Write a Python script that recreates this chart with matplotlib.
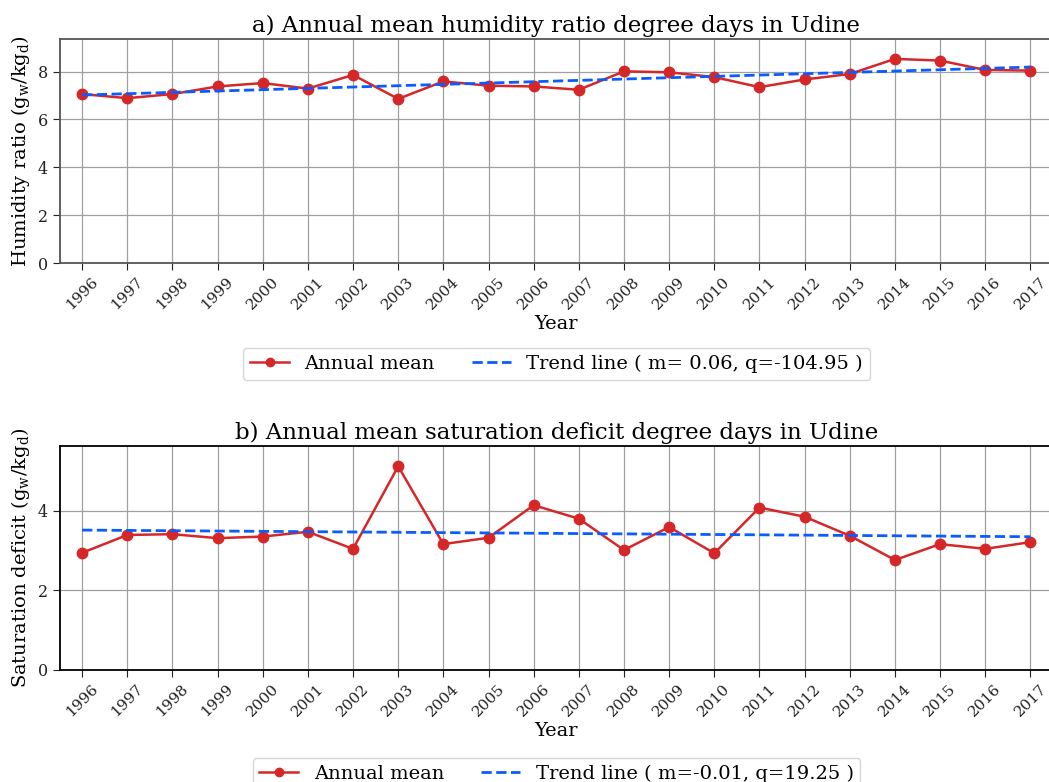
import numpy as np
import matplotlib
matplotlib.use("Agg")
import matplotlib.pyplot as plt

years = list(range(1996, 2018))
humidity = [7.06, 6.89, 7.06, 7.38, 7.52, 7.29, 7.86, 6.86, 7.59, 7.41, 7.38,
            7.24, 8.01, 7.97, 7.77, 7.35, 7.67, 7.90, 8.53, 8.46, 8.07, 8.04]
deficit = [2.94, 3.39, 3.41, 3.31, 3.35, 3.47, 3.04, 5.12, 3.16, 3.32, 4.14,
           3.80, 3.01, 3.59, 2.93, 4.08, 3.85, 3.37, 2.76, 3.16, 3.04, 3.21]
titles = ["a) Annual mean humidity ratio degree days in Udine",
          "b) Annual mean saturation deficit degree days in Udine"]
ylabels = [r"Humidity ratio (g$_\mathrm{w}$/kg$_\mathrm{d}$)",
           r"Saturation deficit (g$_\mathrm{w}$/kg$_\mathrm{d}$)"]
trend_labels = ["Trend line ( m= 0.06, q=-104.95 )",
                "Trend line ( m=-0.01, q=19.25 )"]

plt.rcParams['font.family'] = 'DejaVu Serif'
plt.rcParams['mathtext.fontset'] = 'dejavuserif'

W, H = 1049, 782
fig = plt.figure(figsize=(W / 100, H / 100), dpi=100)

def ax_rect(left, top, right, bottom):
    return [left / W, 1 - bottom / H, (right - left) / W, (bottom - top) / H]

rects = [ax_rect(59.5, 38.5, 1053, 263), ax_rect(59.5, 446, 1053, 669.5)]
legend_tops = [338, 748]
spine_colors = ['#555555', 'black']
series = [humidity, deficit]

for i in range(2):
    ax = fig.add_axes(rects[i])
    vals = np.array(series[i])
    x = np.array(years)
    m, q = np.polyfit(x, vals, 1)
    ax.plot(x, vals, color='#d62728', marker='o', markersize=7.5, linewidth=1.8,
            label='Annual mean', zorder=3)
    ax.plot(x, m * x + q, color='#0a5cff', linestyle='--', linewidth=2,
            label=trend_labels[i], zorder=4)
    ax.set_xlim(1995.5, 2017.5)
    ax.set_ylim(0, vals.max() * 1.1)
    ax.set_xticks(years)
    ax.set_xticklabels([str(y) for y in years], rotation=45, fontsize=11)
    ax.tick_params(axis='y', labelsize=11.5)
    ax.set_yticks(np.arange(0, vals.max() * 1.1, 2))
    ax.grid(True, color='#a0a0a0', linewidth=0.9)
    ax.set_axisbelow(True)
    for s in ax.spines.values():
        s.set_color(spine_colors[i])
        s.set_linewidth(1.3)
    ax.tick_params(colors='#222222', length=5)
    ax.set_title(titles[i], fontsize=16.5, pad=5)
    ax.set_xlabel('Year', fontsize=14, labelpad=2)
    ax.set_ylabel(ylabels[i], fontsize=14, labelpad=4)
    fig.legend(*ax.get_legend_handles_labels(), loc='upper center',
               bbox_to_anchor=(556.5 / W, 1 - legend_tops[i] / H), ncol=2,
               fontsize=14, frameon=True, columnspacing=1.9, handlelength=2.0,
               markerscale=0.8, borderpad=0.35)

fig.savefig('out.png', dpi=100)
